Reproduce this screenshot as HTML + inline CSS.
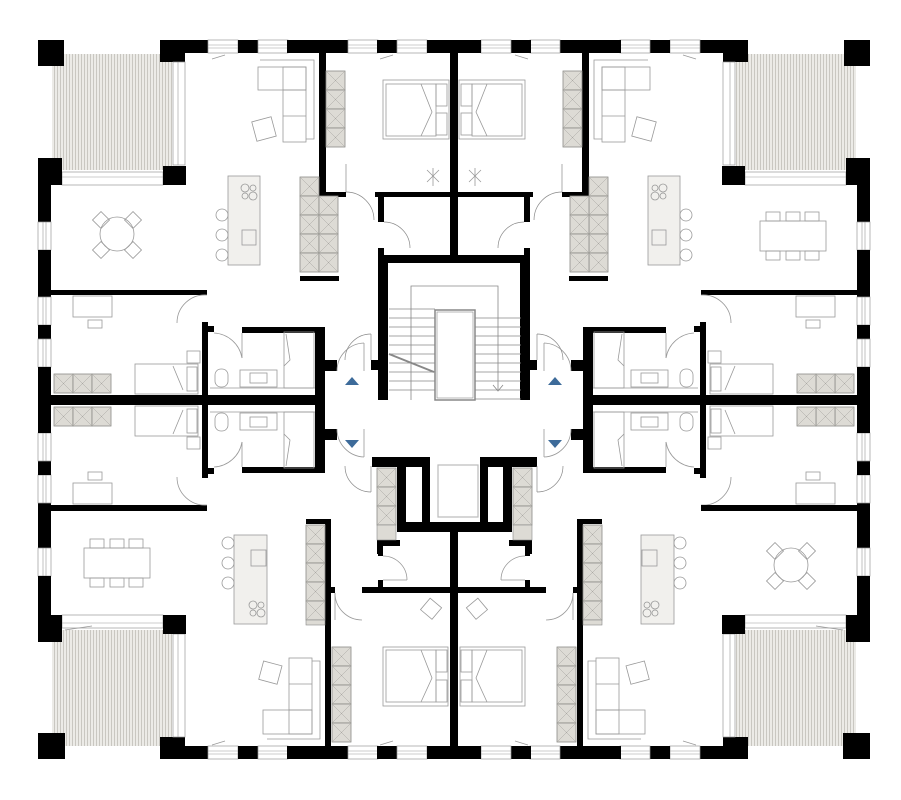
<!DOCTYPE html>
<html><head><meta charset="utf-8"><style>html,body{margin:0;padding:0;background:#fff}svg{display:block}</style></head>
<body>
<svg width="901" height="800" viewBox="0 0 901 800" xmlns="http://www.w3.org/2000/svg" xmlns:xlink="http://www.w3.org/1999/xlink">
<defs>
<pattern id="st" width="3" height="10" patternUnits="userSpaceOnUse"><rect width="3" height="10" fill="#ecebe7"/><rect width="1" height="10" fill="#c9c7c1"/></pattern>
<g id="wc"><rect width="19" height="19" fill="#dddbd5" stroke="#8a8a86" stroke-width="0.8"/><path d="M1 1L18 18M18 1L1 18" stroke="#a9a7a2" stroke-width="0.5"/></g>
<g id="winH"><rect width="30" height="13" fill="#fff" stroke="#999" stroke-width="0.7"/><line x1="0" y1="5" x2="30" y2="5" stroke="#999" stroke-width="0.6"/><line x1="0" y1="8" x2="30" y2="8" stroke="#999" stroke-width="0.6"/></g>
<g id="winV"><rect width="13" height="28" fill="#fff" stroke="#999" stroke-width="0.7"/><line x1="5" y1="0" x2="5" y2="28" stroke="#999" stroke-width="0.6"/><line x1="8" y1="0" x2="8" y2="28" stroke="#999" stroke-width="0.6"/></g>
<g id="round" fill="none" stroke="#999" stroke-width="0.8">
<circle cx="0" cy="0" r="17"/>
<rect x="-22" y="-20" width="12" height="12" transform="rotate(45 -16 -14)"/><rect x="10" y="-20" width="12" height="12" transform="rotate(45 16 -14)"/>
<rect x="-22" y="10" width="12" height="12" transform="rotate(45 -16 16)"/><rect x="10" y="10" width="12" height="12" transform="rotate(45 16 16)"/>
</g>
<g id="rectt" fill="none" stroke="#999" stroke-width="0.8">
<rect x="0" y="9" width="66" height="30"/>
<rect x="6" y="0" width="14" height="9"/><rect x="26" y="0" width="14" height="9"/><rect x="45" y="0" width="14" height="9"/>
<rect x="6" y="39" width="14" height="9"/><rect x="26" y="39" width="14" height="9"/><rect x="45" y="39" width="14" height="9"/>
</g>
</defs>

<g id="topq">
<rect x="52" y="54" width="120" height="116" fill="url(#st)"/>
<rect x="38" y="40" width="26" height="26"/>
<rect x="160" y="40" width="48" height="13"/>
<rect x="160" y="40" width="25" height="22"/>
<use xlink:href="#winH" x="208" y="40"/>
<rect x="238" y="40" width="20" height="13"/>
<use xlink:href="#winH" x="258" y="40"/>
<rect x="287" y="40" width="61" height="13"/>
<use xlink:href="#winH" x="348" y="40"/>
<rect x="377" y="40" width="20" height="13"/>
<use xlink:href="#winH" x="397" y="40"/>
<rect x="427" y="40" width="27" height="13"/>
<rect x="450" y="40" width="4" height="215"/>
<rect x="173" y="62" width="12" height="103" fill="#fff" stroke="#999" stroke-width="0.7"/>
<line x1="178" y1="62" x2="178" y2="165" stroke="#999" stroke-width="0.6"/>
<rect x="62" y="172" width="101" height="13" fill="#fff" stroke="#999" stroke-width="0.7"/>
<line x1="62" y1="177" x2="163" y2="177" stroke="#999" stroke-width="0.6"/>
<rect x="163" y="166" width="23" height="19"/>
<rect x="38" y="158" width="24" height="27"/>
<rect x="38" y="185" width="13" height="37"/>
<use xlink:href="#winV" x="38" y="222"/>
<rect x="38" y="250" width="13" height="40"/>
<rect x="319" y="53" width="7" height="144"/>
<rect x="319" y="192" width="27" height="5"/>
<rect x="375" y="192" width="79" height="5"/>
<rect x="378" y="192" width="6" height="30"/>
<rect x="378" y="248" width="6" height="10"/>
<rect x="378" y="255" width="10" height="145"/>
<rect x="378" y="255" width="76" height="8"/>
<path d="M346 192 A28 28 0 0 1 374 220" fill="none" stroke="#888" stroke-width="0.7"/>
<line x1="346" y1="164" x2="346" y2="192" stroke="#888" stroke-width="0.7"/>
<path d="M384 222 A26 26 0 0 1 410 248" fill="none" stroke="#888" stroke-width="0.7"/>
<use xlink:href="#wc" x="300" y="177"/>
<use xlink:href="#wc" x="300" y="196"/><use xlink:href="#wc" x="319" y="196"/>
<use xlink:href="#wc" x="300" y="215"/><use xlink:href="#wc" x="319" y="215"/>
<use xlink:href="#wc" x="300" y="234"/><use xlink:href="#wc" x="319" y="234"/>
<use xlink:href="#wc" x="300" y="253"/><use xlink:href="#wc" x="319" y="253"/>
<rect x="300" y="276" width="39" height="5"/>
<use xlink:href="#wc" x="326" y="71"/><use xlink:href="#wc" x="326" y="90"/><use xlink:href="#wc" x="326" y="109"/><use xlink:href="#wc" x="326" y="128"/>
<g fill="none" stroke="#999" stroke-width="0.8">
<rect x="258" y="67" width="48" height="23"/><rect x="283" y="67" width="23" height="75"/>
<line x1="283" y1="90" x2="306" y2="90"/><line x1="283" y1="116" x2="306" y2="116"/>
<polyline points="260,60 314,60 314,139 306,139"/>
<rect x="254" y="119" width="20" height="20" transform="rotate(-15 264 129)"/>
<rect x="228" y="176" width="32" height="89" fill="#f1f0ed"/>
<circle cx="245" cy="188" r="4"/><circle cx="253" cy="188" r="3"/><circle cx="245" cy="196" r="3"/><circle cx="253" cy="196" r="4"/>
<rect x="242" y="230" width="14" height="15"/>
<circle cx="222" cy="215" r="6"/><circle cx="222" cy="235" r="6"/><circle cx="222" cy="255" r="6"/>
<rect x="383" y="80" width="66" height="59"/><rect x="386" y="84" width="50" height="52"/>
<polyline points="421,84 432,112 421,136"/><rect x="436" y="84" width="11" height="22"/><rect x="436" y="113" width="11" height="22"/>
<path d="M427 170l12 12M439 170l-12 12M433 168v18"/>
<path d="M212 59l13 -4M380 59l13 -4"/>
</g>
</g>

<g id="bed">
<rect x="38" y="288" width="13" height="9"/>
<use xlink:href="#winV" x="38" y="297"/>
<rect x="38" y="325" width="13" height="14"/>
<use xlink:href="#winV" x="38" y="339"/>
<rect x="38" y="367" width="13" height="33"/>
<rect x="51" y="290" width="156" height="5"/>
<rect x="202" y="322" width="6" height="78"/>
<rect x="207" y="326" width="7" height="6"/>
<rect x="242" y="327" width="83" height="6"/>
<rect x="315" y="327" width="10" height="73"/>
<rect x="325" y="360" width="12" height="11"/>
<rect x="38" y="395" width="287" height="5"/>
<use xlink:href="#wc" x="54" y="374"/><use xlink:href="#wc" x="73" y="374"/><use xlink:href="#wc" x="92" y="374"/>
<g fill="none" stroke="#999" stroke-width="0.8">
<path d="M207 295 A28 28 0 0 0 177 323"/>
<path d="M214 333 A30 30 0 0 1 242 358"/><line x1="242" y1="333" x2="242" y2="358"/>
<rect x="73" y="296" width="39" height="21"/><rect x="88" y="320" width="14" height="8"/>
<rect x="135" y="364" width="63" height="30"/><polyline points="173,366 183,390"/><rect x="187" y="367" width="10" height="24"/>
<rect x="187" y="351" width="13" height="12"/>
<rect x="215" y="369" width="13" height="18" rx="6"/>
<rect x="240" y="370" width="37" height="17"/><rect x="250" y="373" width="17" height="10"/>
<rect x="284" y="332" width="30" height="56"/><polyline points="286,334 290,360 284,366"/>
<line x1="210" y1="388" x2="315" y2="388"/>
<path d="M337 371 A28 28 0 0 1 364 343"/><line x1="364" y1="343" x2="364" y2="371"/>
</g>
</g>

<g id="botq">
<rect x="52" y="630" width="120" height="116" fill="url(#st)"/>
<rect x="38" y="733" width="27" height="26"/>
<rect x="160" y="746" width="48" height="13"/>
<rect x="160" y="737" width="25" height="22"/>
<use xlink:href="#winH" x="208" y="746"/>
<rect x="238" y="746" width="20" height="13"/>
<use xlink:href="#winH" x="258" y="746"/>
<rect x="287" y="746" width="61" height="13"/>
<use xlink:href="#winH" x="348" y="746"/>
<rect x="377" y="746" width="20" height="13"/>
<use xlink:href="#winH" x="397" y="746"/>
<rect x="427" y="746" width="27" height="13"/>
<rect x="450" y="532" width="4" height="214"/>
<rect x="173" y="634" width="12" height="103" fill="#fff" stroke="#999" stroke-width="0.7"/>
<line x1="178" y1="634" x2="178" y2="737" stroke="#999" stroke-width="0.6"/>
<rect x="62" y="615" width="101" height="13" fill="#fff" stroke="#999" stroke-width="0.7"/>
<line x1="62" y1="623" x2="163" y2="623" stroke="#999" stroke-width="0.6"/>
<rect x="163" y="615" width="23" height="19"/>
<rect x="38" y="400" width="13" height="13"/>
<rect x="38" y="505" width="13" height="43"/>
<use xlink:href="#winV" x="38" y="548"/>
<rect x="38" y="576" width="13" height="40"/>
<rect x="38" y="615" width="24" height="27"/>
<rect x="51" y="505" width="156" height="6"/>
<rect x="325" y="519" width="6" height="227"/>
<rect x="306" y="519" width="25" height="5"/>
<rect x="362" y="587" width="92" height="6"/>
<rect x="331" y="587" width="4" height="6"/>
<rect x="378" y="532" width="5" height="24"/>
<rect x="378" y="580" width="5" height="8"/>
<use xlink:href="#wc" x="306" y="525"/><use xlink:href="#wc" x="306" y="544"/><use xlink:href="#wc" x="306" y="563"/><use xlink:href="#wc" x="306" y="582"/><use xlink:href="#wc" x="306" y="601"/>
<rect x="306" y="620" width="19" height="5" fill="#dddbd5" stroke="#888" stroke-width="0.6"/>
<use xlink:href="#wc" x="332" y="647"/><use xlink:href="#wc" x="332" y="666"/><use xlink:href="#wc" x="332" y="685"/><use xlink:href="#wc" x="332" y="704"/><use xlink:href="#wc" x="332" y="723"/>
<g fill="none" stroke="#999" stroke-width="0.8">
<path d="M335 593 A27 27 0 0 0 362 620"/><line x1="335" y1="593" x2="335" y2="620"/>
<path d="M383 556 A24 24 0 0 1 407 580"/><line x1="383" y1="580" x2="407" y2="580"/>
<rect x="234" y="535" width="33" height="89" fill="#f1f0ed"/>
<rect x="251" y="550" width="15" height="16"/>
<circle cx="253" cy="605" r="4"/><circle cx="261" cy="605" r="3"/><circle cx="253" cy="613" r="3"/><circle cx="261" cy="613" r="4"/>
<circle cx="228" cy="543" r="6"/><circle cx="228" cy="563" r="6"/><circle cx="228" cy="583" r="6"/>
<rect x="263" y="710" width="49" height="24"/><rect x="289" y="658" width="23" height="76"/>
<line x1="289" y1="684" x2="312" y2="684"/><line x1="289" y1="710" x2="312" y2="710"/>
<polyline points="312,661 320,661 320,739 267,739"/>
<rect x="261" y="663" width="19" height="19" transform="rotate(15 270 672)"/>
<rect x="383" y="647" width="65" height="59"/><rect x="386" y="650" width="50" height="52"/>
<polyline points="421,650 432,678 421,702"/><rect x="436" y="650" width="11" height="22"/><rect x="436" y="680" width="11" height="22"/>
<rect x="424" y="601" width="15" height="15" transform="rotate(40 431 608)"/>
<path d="M212 745l13 -4M380 745l13 -4M65 630l27 -4"/>
</g>
</g>

<use xlink:href="#topq" transform="translate(908,0) scale(-1,1)"/>
<use xlink:href="#bed" transform="translate(908,0) scale(-1,1)"/>
<use xlink:href="#bed" transform="translate(0,800) scale(1,-1)"/>
<use xlink:href="#bed" transform="translate(908,800) scale(-1,-1)"/>
<use xlink:href="#botq" transform="translate(908,0) scale(-1,1)"/>

<!-- dining tables -->
<use xlink:href="#round" x="117" y="234"/>
<use xlink:href="#round" x="791" y="565"/>
<use xlink:href="#rectt" x="84" y="539"/>
<use xlink:href="#rectt" x="760" y="212"/>

<g fill="none" stroke="#888" stroke-width="0.8">
<polyline points="411,400 411,286 498,286 498,390"/>
<rect x="435" y="310" width="40" height="90" stroke-width="1.5"/>
<rect x="437" y="312" width="36" height="86" stroke-width="0.6"/>
<g id="steps"><line x1="389" y1="309" x2="435" y2="309"/><line x1="389" y1="318" x2="435" y2="318"/><line x1="389" y1="327" x2="435" y2="327"/><line x1="389" y1="336" x2="435" y2="336"/><line x1="389" y1="345" x2="435" y2="345"/><line x1="389" y1="354" x2="435" y2="354"/><line x1="389" y1="363" x2="435" y2="363"/><line x1="389" y1="372" x2="435" y2="372"/><line x1="389" y1="381" x2="435" y2="381"/><line x1="389" y1="390" x2="435" y2="390"/></g>
<use xlink:href="#steps" transform="translate(86,9)"/>
<line x1="389" y1="354" x2="434" y2="372" stroke-width="2"/>
<path d="M493 385l5 6 5 -6"/>
</g>

<rect x="372" y="457" width="57" height="10"/>
<rect x="480" y="457" width="57" height="10"/>
<rect x="397" y="457" width="9" height="75"/>
<rect x="422" y="457" width="8" height="65"/>
<rect x="480" y="457" width="8" height="65"/>
<rect x="503" y="457" width="9" height="75"/>
<rect x="397" y="522" width="115" height="10"/>
<rect x="377" y="540" width="23" height="6"/><rect x="377" y="540" width="5" height="14"/>
<rect x="509" y="540" width="23" height="6"/><rect x="527" y="540" width="5" height="14"/>
<rect x="438" y="465" width="40" height="52" fill="none" stroke="#bbb" stroke-width="1.2"/>
<use xlink:href="#wc" x="377" y="468"/><use xlink:href="#wc" x="377" y="487"/><use xlink:href="#wc" x="377" y="506"/><rect x="377" y="525" width="19" height="15" fill="#dddbd5" stroke="#888" stroke-width="0.6"/>
<use xlink:href="#wc" x="513" y="468"/><use xlink:href="#wc" x="513" y="487"/><use xlink:href="#wc" x="513" y="506"/><rect x="513" y="525" width="19" height="15" fill="#dddbd5" stroke="#888" stroke-width="0.6"/>
<g fill="none" stroke="#888" stroke-width="0.7">
<path d="M371 334 A26 26 0 0 0 345 360"/><line x1="371" y1="334" x2="371" y2="360"/>
<path d="M537 334 A26 26 0 0 1 563 360"/><line x1="537" y1="334" x2="537" y2="360"/>
<path d="M345 466 A26 26 0 0 0 371 492"/><line x1="371" y1="466" x2="371" y2="492"/>
<path d="M563 466 A26 26 0 0 1 537 492"/><line x1="537" y1="466" x2="537" y2="492"/>
</g>
<rect x="371" y="360" width="8" height="10"/><rect x="529" y="360" width="8" height="10"/>
<g fill="#3d6b9a">
<polygon points="352,377 345,385 359,385"/><polygon points="555,377 548,385 562,385"/>
<polygon points="345,440 359,440 352,448"/><polygon points="548,440 562,440 555,448"/>
</g>
</svg>
</body></html>
